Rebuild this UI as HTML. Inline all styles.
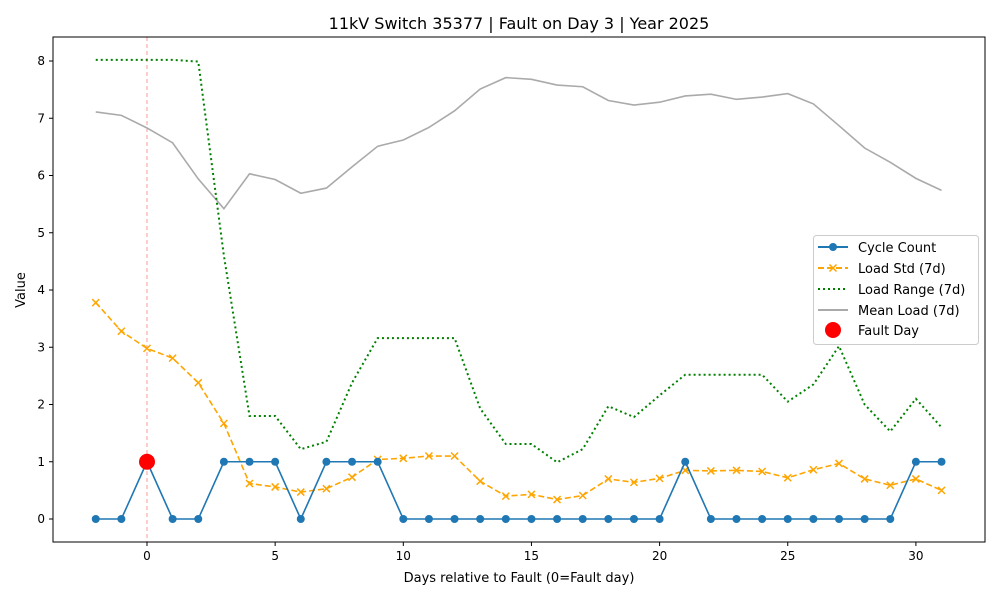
<!DOCTYPE html>
<html><head><meta charset="utf-8"><style>
body{margin:0;background:#fff;}
svg text{font-family:"DejaVu Sans","Liberation Sans",sans-serif;fill:#000;}
</style></head><body>
<svg id="c" width="1000" height="600" xmlns="http://www.w3.org/2000/svg">
<rect width="1000" height="600" fill="#fff"/>
<text x="519" y="29" text-anchor="middle" font-size="16">11kV Switch 35377 | Fault on Day 3 | Year 2025</text>
<text x="519" y="582" text-anchor="middle" font-size="13">Days relative to Fault (0=Fault day)</text>
<text x="25" y="290" text-anchor="middle" font-size="13" transform="rotate(-90 25 290)">Value</text>
<g id="grid"></g><g id="series"></g>
<rect x="53" y="37" width="932" height="505" fill="none" stroke="#000" stroke-width="1"/>
<g>
<rect x="813.5" y="235.5" width="165" height="109" rx="3" fill="#fff" fill-opacity="0.8" stroke="#ccc"/>
<line x1="818" y1="247" x2="848" y2="247" stroke="#1f77b4" stroke-width="2"/><circle cx="833" cy="247" r="4" fill="#1f77b4"/>
<text x="858" y="252" font-size="13">Cycle Count</text>
<line x1="818" y1="268" x2="848" y2="268" stroke="#ffa500" stroke-width="2" stroke-dasharray="6,3"/><path d="M829.5 264.5l7 7M836.5 264.5l-7 7" stroke="#ffa500" stroke-width="1.5"/>
<text x="858" y="273" font-size="13">Load Std (7d)</text>
<line x1="818" y1="289" x2="848" y2="289" stroke="green" stroke-width="2" stroke-dasharray="2,3"/>
<text x="858" y="294" font-size="13">Load Range (7d)</text>
<line x1="818" y1="310" x2="848" y2="310" stroke="#aaa" stroke-width="2"/>
<text x="858" y="315" font-size="13">Mean Load (7d)</text>
<circle cx="833" cy="330" r="8" fill="red"/>
<text x="858" y="335" font-size="13">Fault Day</text>
</g>
</svg>
<script>
const days=[-2,-1,0,1,2,3,4,5,6,7,8,9,10,11,12,13,14,15,16,17,18,19,20,21,22,23,24,25,26,27,28,29,30,31];
const cycleCount=[0,0,1,0,0,1,1,1,0,1,1,1,0,0,0,0,0,0,0,0,0,0,0,1,0,0,0,0,0,0,0,0,1,1];
const loadStd=[3.78,3.28,2.98,2.81,2.38,1.67,0.62,0.56,0.47,0.53,0.73,1.04,1.06,1.10,1.10,0.66,0.40,0.43,0.34,0.41,0.70,0.64,0.71,0.85,0.84,0.85,0.83,0.72,0.86,0.97,0.70,0.59,0.70,0.50];
const loadRange=[8.02,8.02,8.02,8.02,7.99,4.6,1.8,1.8,1.22,1.35,2.38,3.16,3.16,3.16,3.16,1.93,1.31,1.31,0.99,1.22,1.97,1.78,2.16,2.52,2.52,2.52,2.52,2.05,2.35,3.02,2.0,1.53,2.1,1.6];
const meanLoad=[7.11,7.05,6.83,6.57,5.94,5.42,6.03,5.93,5.69,5.78,6.15,6.51,6.62,6.84,7.13,7.51,7.71,7.68,7.58,7.55,7.31,7.23,7.28,7.39,7.42,7.33,7.37,7.43,7.25,6.87,6.48,6.23,5.95,5.74];
const faultDay=[0];const faultVal=[1];
const xTicks=[0,5,10,15,20,25,30];const yTicks=[0,1,2,3,4,5,6,7,8];
const NS="http://www.w3.org/2000/svg";
const X=d=>147+d*25.63, Y=v=>519-v*57.25;
const g=document.getElementById('grid'), s=document.getElementById('series');
function mk(tag,at,p){const e=document.createElementNS(NS,tag);for(const k in at)e.setAttribute(k,at[k]);p.appendChild(e);return e;}
xTicks.forEach(t=>{mk('line',{x1:X(t),x2:X(t),y1:542,y2:546,stroke:'#000'},g);
 const e=mk('text',{x:X(t),y:560,'text-anchor':'middle','font-size':12},g);e.textContent=t;
 
 });
yTicks.forEach(t=>{mk('line',{x1:49,x2:53,y1:Y(t),y2:Y(t),stroke:'#000'},g);
 const e=mk('text',{x:45,y:Y(t)+4,'text-anchor':'end','font-size':12},g);e.textContent=t;
 
 });
const fl=mk('line',{x1:X(0),x2:X(0),y1:37,y2:542,stroke:'red','stroke-opacity':0.4,'stroke-dasharray':'4,3'},s);


function line(vals,at,name){const p=mk('polyline',Object.assign({points:days.map((d,i)=>X(d)+','+Y(vals[i])).join(' '),fill:'none'},at),s);
 
 }
line(meanLoad,{stroke:'#aaa','stroke-width':1.6},'mean-load-line');
line(loadRange,{stroke:'green','stroke-width':2,'stroke-dasharray':'2,3'},'load-range-line');
line(loadStd,{stroke:'#ffa500','stroke-width':1.6,'stroke-dasharray':'6,3'},'load-std-line');
days.forEach((d,i)=>{const x=X(d),y=Y(loadStd[i]);
 const m=mk('path',{d:`M${x-3.5} ${y-3.5}l7 7M${x+3.5} ${y-3.5}l-7 7`,stroke:'#ffa500','stroke-width':1.5},s);
 
 });
line(cycleCount,{stroke:'#1f77b4','stroke-width':1.6},'cycle-count-line');
days.forEach((d,i)=>{const c=mk('circle',{cx:X(d),cy:Y(cycleCount[i]),r:4,fill:'#1f77b4'},s);
 
 });
faultDay.forEach((d,i)=>{const c=mk('circle',{cx:X(d),cy:Y(faultVal[i]),r:8,fill:'red'},s);
 
 });
</script>
</body></html>
